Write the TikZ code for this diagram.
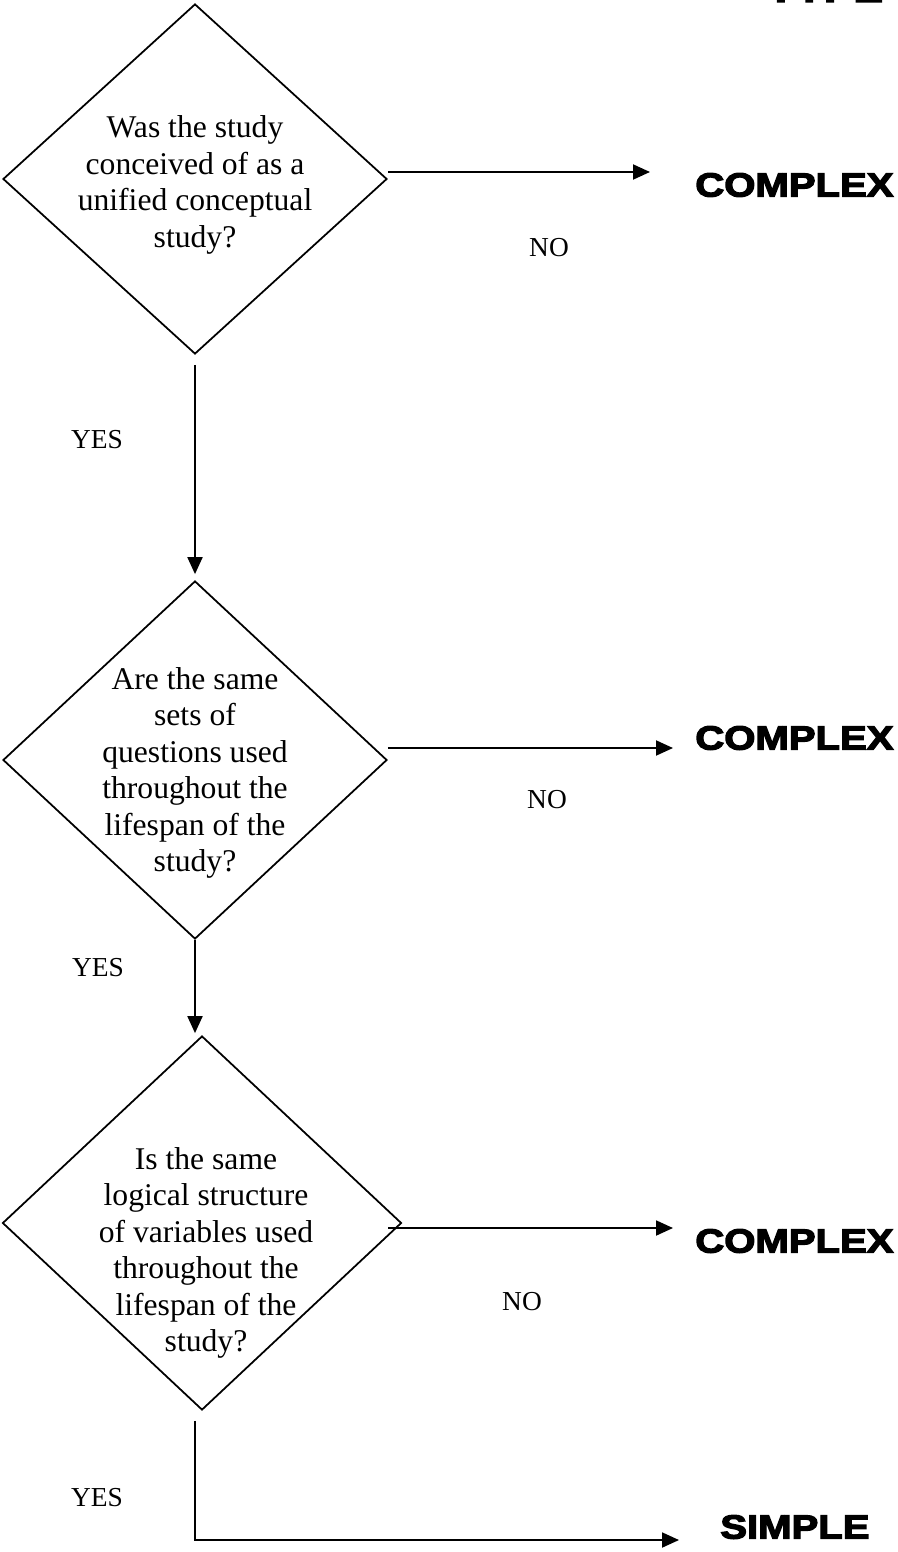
\documentclass[tikz,border=0pt]{standalone}
\usepackage{fontspec}
\setmainfont{Liberation Serif}
\newfontfamily\heavyfont{Liberation Sans Bold}[FakeBold=4,FakeStretch=1.2]
\usetikzlibrary{arrows.meta, positioning, shapes.geometric}

\tikzset{
  decision/.style={draw, shape=diamond, inner sep=0pt, line width=1pt},
  question/.style={align=center, inner sep=0pt, font=\fontsize{18}{20.8}\selectfont},
  answer/.style={inner sep=0pt, font=\fontsize{15.6}{18}\selectfont},
  outcome/.style={anchor=west, inner sep=0pt, font=\heavyfont\fontsize{19}{22}\selectfont},
  flow/.style={-{Triangle[length=0.34cm, width=0.3cm]}, line width=1.1pt},
}

\begin{document}
\begin{tikzpicture}
  \useasboundingbox (0,0) rectangle (17.96,-31.04);

  % heading, cut off at the top edge
  \node[anchor=base west, inner sep=0pt, font=\heavyfont\fontsize{21}{24}\selectfont]
    (title) at (15.34,-0.04) {TYPE};

  % Question 1
  \node[decision, minimum width=7.68cm, minimum height=7cm] (q1) at (3.90,-3.58) {};
  \node[question] (q1txt) at (3.90,-3.70)
    {Was the study\\conceived of as a\\unified conceptual\\study?};

  % Question 2
  \node[decision, minimum width=7.68cm, minimum height=7.16cm] (q2) at (3.90,-15.20) {};
  \node[question] (q2txt) at (3.90,-15.46)
    {Are the same\\sets of\\questions used\\throughout the\\lifespan of the\\study?};

  % Question 3
  \node[decision, minimum width=7.98cm, minimum height=7.48cm] (q3) at (4.04,-24.46) {};
  \node[question] (q3txt) at (4.12,-25.06)
    {Is the same\\logical structure\\of variables used\\throughout the\\lifespan of the\\study?};

  % outcomes
  \node[outcome] (c1) at (13.90,-3.70) {COMPLEX};
  \node[outcome] (c2) at (13.90,-14.76) {COMPLEX};
  \node[outcome] (c3) at (13.90,-24.82) {COMPLEX};
  \node[outcome] (s1) at (14.40,-30.54) {SIMPLE};

  % arrow ends
  \coordinate (n1) at (13.00,-3.44);
  \coordinate (n2) at (13.46,-14.96);
  \coordinate (n3) at (13.46,-24.56);
  \coordinate (y3) at (13.58,-30.80);

  % NO branches
  \draw[flow] (q1.east |- n1) -- (n1);
  \draw[flow] (q2.east |- n2) -- (n2);
  \draw[flow] ([xshift=-0.28cm]q3.east |- n3) -- (n3);
  \node[answer] (no1) at (10.98,-4.96) {NO};
  \node[answer] (no2) at (10.94,-16.00) {NO};
  \node[answer] (no3) at (10.44,-26.04) {NO};

  % YES branches
  \draw[flow, shorten <=0.2cm, shorten >=0.12cm] (q1.south) -- (q2.north);
  \draw[flow, shorten >=0.04cm] (q2.south) -- (q2.south |- q3.north);
  \draw[flow, shorten <=0.2cm] (q2.south |- q3.south) |- (y3);
  \node[answer] (yes1) at (1.94,-8.80) {YES};
  \node[answer] (yes2) at (1.96,-19.36) {YES};
  \node[answer] (yes3) at (1.94,-29.96) {YES};
\end{tikzpicture}
\end{document}
